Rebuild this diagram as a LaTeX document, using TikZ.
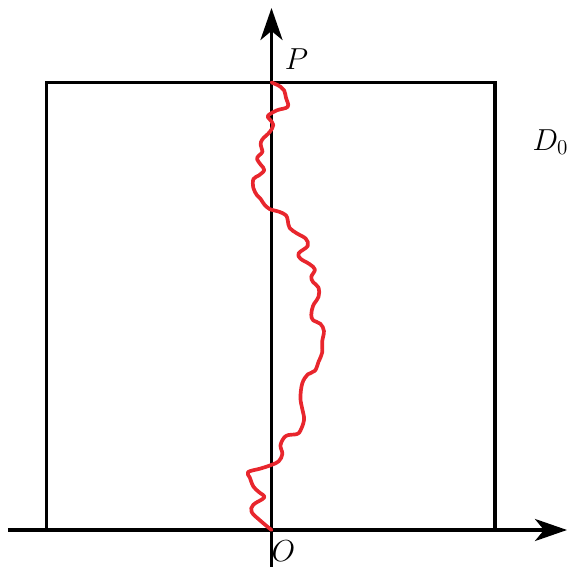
\documentclass[tikz,border=0pt]{standalone}
\usepackage{amsmath}
\usepackage{tikz}
\usetikzlibrary{arrows.meta,calc,positioning}
\definecolor{walkred}{RGB}{232,38,45}
\tikzset{
  axis/.style={-{Stealth[length=6.4mm, width=4.4mm, inset=1.8mm]}, line width=2.1pt, draw=black},
  frame/.style={draw=black, line width=1.9pt},
  walk/.style={draw=walkred, line width=2.1pt, line join=round, line cap=round},
  lbl/.style={font=\LARGE, inner sep=0pt}
}
\begin{document}
\begin{tikzpicture}
  \useasboundingbox (-5.43,-0.74) rectangle (5.91,10.60);
  \coordinate (xs) at (-5.27,0);
  \coordinate (xe) at (5.91,0);
  \coordinate (ys) at (0,-0.74);
  \coordinate (ye) at (0,10.44);

  \draw[frame] (-4.50,0) rectangle (4.47,8.95);
  \draw[axis] (xs) -- (xe);
  \draw[axis] (ys) -- (ye);

  \node[lbl] (O) at (0.24,-0.42) {$O$};
  \node[lbl] (P) at (0.50,9.42) {$P$};
  \node[lbl] (D0) at (5.58,7.76) {$D_0$};

  % the red path from O up to P
  \draw[walk] plot[smooth, tension=0.6] coordinates {
    (0,0) (-0.217,0.181) (-0.398,0.362) (-0.362,0.507) (-0.145,0.651)
    (-0.253,0.760) (-0.362,0.868) (-0.434,1.049) (-0.470,1.158) (-0.217,1.230)
    (0,1.302) (0.145,1.375) (0.217,1.520) (0.181,1.700) (0.289,1.881)
    (0.507,1.918) (0.579,1.990) (0.651,2.207) (0.615,2.424) (0.579,2.641)
    (0.615,2.931) (0.724,3.111) (0.868,3.184) (0.941,3.365) (1.013,3.546)
    (1.013,3.763) (1.049,3.980) (0.977,4.124) (0.832,4.197) (0.796,4.305)
    (0.832,4.486) (0.941,4.667) (0.941,4.848) (0.832,4.957) (0.796,5.065)
    (0.868,5.210) (0.760,5.318) (0.579,5.427) (0.543,5.535) (0.724,5.680)
    (0.687,5.825) (0.507,5.933) (0.362,6.042) (0.326,6.187) (0.289,6.295)
    (0.145,6.368) (-0.036,6.418) (-0.145,6.512) (-0.217,6.621) (-0.289,6.693)
    (-0.362,6.838) (-0.362,7.019) (-0.253,7.091) (-0.145,7.200) (-0.217,7.308)
    (-0.289,7.417) (-0.253,7.489) (-0.181,7.562) (-0.217,7.706) (-0.181,7.815)
    (-0.036,7.959) (0.036,8.104) (-0.036,8.213) (-0.072,8.285) (0.109,8.394)
    (0.326,8.466) (0.289,8.647) (0.253,8.792) (0.181,8.864) (0.087,8.915)
    (0,8.951)
  };
\end{tikzpicture}
\end{document}
